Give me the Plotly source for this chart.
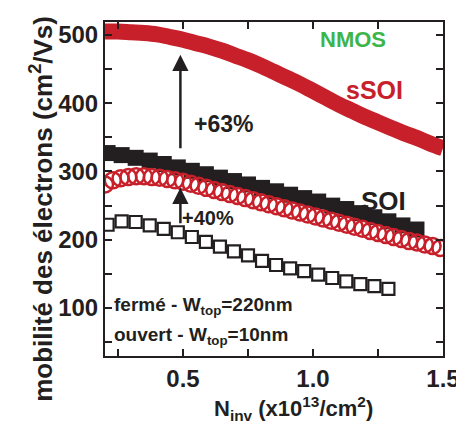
import plotly.graph_objects as go

# sSOI fermé (thick red band)
x_ssoi = [0.2, 0.25, 0.3, 0.35, 0.4, 0.45, 0.5, 0.55, 0.6, 0.65, 0.7, 0.75, 0.8, 0.85,
          0.9, 0.95, 1.0, 1.05, 1.1, 1.15, 1.2, 1.25, 1.3, 1.35, 1.4, 1.45, 1.5]
y_ssoi = [505, 505, 504, 503, 501, 497, 493, 488, 483, 477, 470, 463, 455, 446,
          437, 428, 418, 408, 398, 389, 380, 372, 364, 356, 349, 341, 334]

# sSOI ouvert (open red circles)
x_ssoi_open = [0.2, 0.23, 0.26, 0.29, 0.32, 0.35, 0.38, 0.41, 0.44, 0.47, 0.5, 0.53, 0.56,
               0.59, 0.62, 0.65, 0.68, 0.71, 0.74, 0.77, 0.8, 0.83, 0.86, 0.89, 0.92, 0.95,
               0.98, 1.01, 1.04, 1.07, 1.1, 1.13, 1.16, 1.19, 1.22, 1.25, 1.28, 1.31, 1.34,
               1.37, 1.4, 1.43, 1.46, 1.49]
y_ssoi_open = [281, 287, 290, 292, 293, 293, 292, 291, 289, 287, 285, 282, 279,
               276, 273, 270, 267, 264, 261, 258, 255, 252, 249, 246, 243, 240,
               237, 234, 231, 228, 225, 222, 219, 216, 213, 210, 207, 204, 201,
               198, 196, 193, 191, 188]

# SOI fermé (filled black squares)
x_soi = [0.21, 0.264, 0.318, 0.372, 0.426, 0.48, 0.534, 0.588, 0.642, 0.696, 0.75, 0.804,
         0.858, 0.912, 0.966, 1.02, 1.074, 1.128, 1.182, 1.236, 1.29, 1.344, 1.398]
y_soi = [327, 324, 320, 316, 311, 306, 301, 296, 291, 286, 281, 276,
         271, 266, 261, 256, 250, 245, 239, 233, 227, 221, 215]

# SOI ouvert (open black squares)
x_soi_open = [0.21, 0.264, 0.318, 0.372, 0.426, 0.48, 0.534, 0.588, 0.642, 0.696, 0.75,
              0.804, 0.858, 0.912, 0.966, 1.02, 1.074, 1.128, 1.182, 1.236, 1.29]
y_soi_open = [222, 227, 226, 221, 216, 211, 204, 197, 190, 183, 177,
              169, 163, 158, 154, 149, 144, 139, 135, 132, 128]

RED = "#c8202a"
BLK = "#231f20"
FONT = "Liberation Sans"

fig = go.Figure()
fig.add_trace(go.Scatter(x=x_soi, y=y_soi, mode="markers",
                         marker=dict(symbol="square", size=16, color=BLK, line=dict(width=0))))
fig.add_trace(go.Scatter(x=x_ssoi_open, y=y_ssoi_open, mode="markers",
                         marker=dict(symbol="circle-open", size=16, color=RED, line=dict(width=2.5, color=RED))))
fig.add_trace(go.Scatter(x=x_soi_open, y=y_soi_open, mode="markers",
                         marker=dict(symbol="square-open", size=12, color=BLK, line=dict(width=2.2, color=BLK))))
fig.add_trace(go.Scatter(x=x_ssoi, y=y_ssoi, mode="lines",
                         line=dict(color=RED, width=16, shape="spline")))

def txt(x, y, s, size, color=BLK, xanchor="center"):
    fig.add_annotation(x=x, y=y, xref="x", yref="y", text=s, showarrow=False,
                       xanchor=xanchor, yanchor="middle",
                       font=dict(family=FONT, size=size, color=color, weight="bold"))

txt(1.155, 494, "NMOS", 22, "#3cb54a")
txt(1.238, 419, "sSOI", 25, RED)
txt(1.271, 257, "SOI", 26)
txt(0.655, 370, "+63%", 23)
txt(0.598, 232, "+40%", 20)
txt(0.228, 103, "fermé - W<sub>top</sub>=220nm", 19, xanchor="left")
txt(0.228, 59, "ouvert - W<sub>top</sub>=10nm", 19, xanchor="left")

# arrows
for (x0, y0, y1) in [(0.49, 332, 471), (0.49, 222, 276)]:
    fig.add_annotation(x=x0, y=y1, ax=x0, ay=y0, xref="x", yref="y", axref="x", ayref="y",
                       showarrow=True, arrowhead=2, arrowsize=1.3, arrowwidth=2.5,
                       arrowcolor=BLK, text="")

# axis titles
fig.add_annotation(x=0.559, y=-0.158, xref="paper", yref="paper", showarrow=False,
                   text="N<sub>inv</sub> (x10<sup>13</sup>/cm<sup>2</sup>)",
                   xanchor="center", yanchor="middle",
                   font=dict(family=FONT, size=22, color=BLK, weight="bold"))
fig.add_annotation(x=-0.19, y=0.44, xref="paper", yref="paper", showarrow=False,
                   text="mobilité des électrons (cm<sup>2</sup>/Vs)", textangle=-90,
                   xanchor="center", yanchor="middle",
                   font=dict(family=FONT, size=26, color=BLK, weight="bold"))

axis_common = dict(showline=True, linecolor=BLK, linewidth=2, mirror="ticks",
                   ticks="inside", ticklen=7, tickwidth=2, tickcolor=BLK,
                   showgrid=False, zeroline=False,
                   tickfont=dict(family=FONT, size=24, color=BLK, weight="bold"))

fig.update_xaxes(range=[0.2, 1.5], tickvals=[0.5, 1.0, 1.5], ticktext=["0.5", "1.0", "1.5"],
                 minor=dict(tickvals=[0.25, 0.75, 1.25], ticks="inside", ticklen=7,
                            tickwidth=2, tickcolor=BLK),
                 **axis_common)
fig.update_yaxes(range=[29.7, 519], tickvals=[100, 200, 300, 400, 500],
                 minor=dict(tickvals=[50, 150, 250, 350, 450], ticks="inside", ticklen=7,
                            tickwidth=2, tickcolor=BLK),
                 **axis_common)

fig.update_layout(width=464, height=425, margin=dict(l=97, r=22, t=14, b=77),
                  plot_bgcolor="white", paper_bgcolor="white", showlegend=False)

fig.write_html("out.html")
